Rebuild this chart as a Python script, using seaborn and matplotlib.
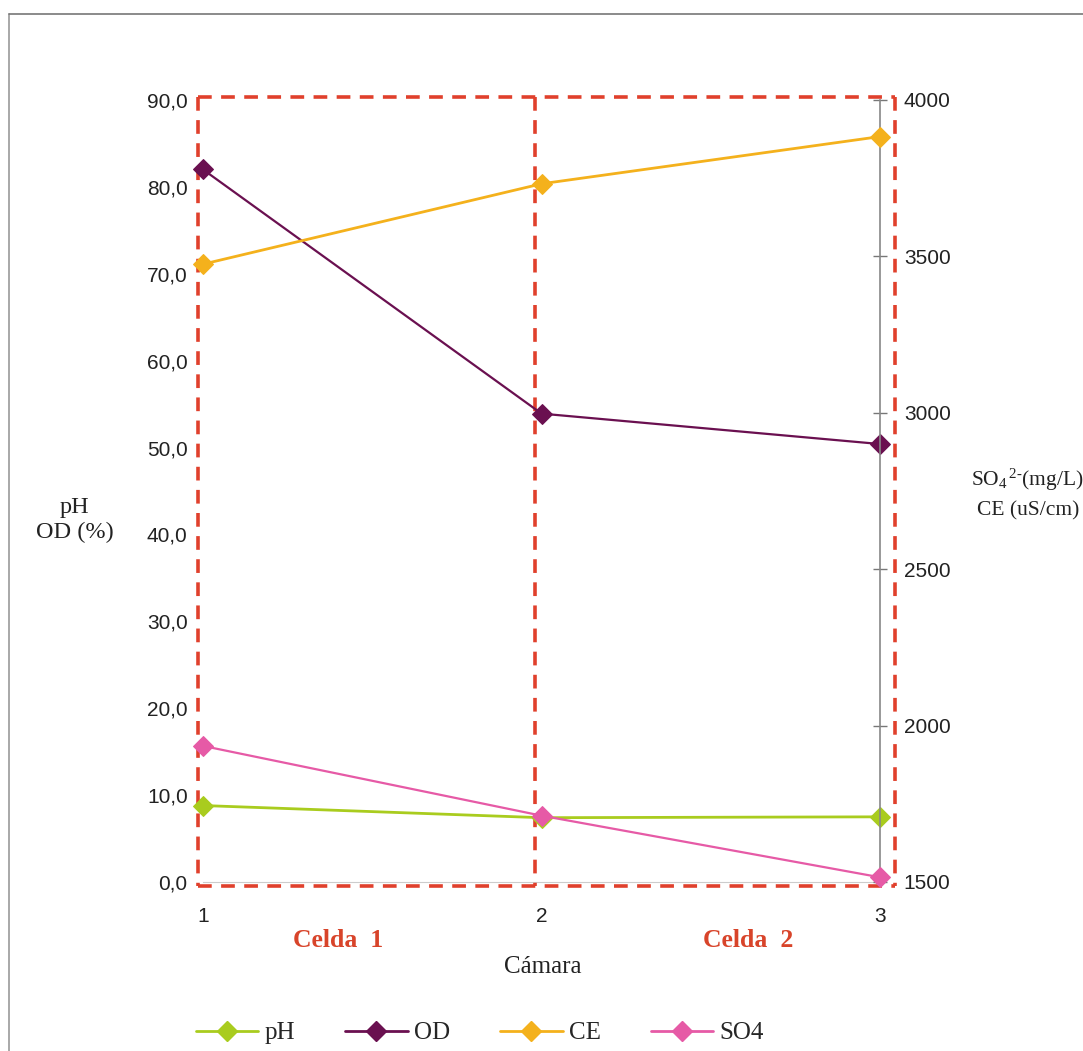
import matplotlib
matplotlib.use("Agg")
import matplotlib.pyplot as plt
import seaborn as sns
import pandas as pd
from matplotlib.lines import Line2D

# ---- data ----
camara = [1, 2, 3]
ph = [8.8, 7.4, 7.5]
od = [82.0, 53.9, 50.4]
ce = [3475, 3732, 3883]
so4 = [1935, 1712, 1515]
left_ticks = [0, 10, 20, 30, 40, 50, 60, 70, 80, 90]
right_ticks = [1500, 2000, 2500, 3000, 3500, 4000]
celdas = ["Celda  1", "Celda  2"]
celda_edges = [0.985, 1.982, 3.045]
celda_label_x = [1.40, 2.61]

c_ph = "#a9cc1e"
c_od = "#6a1050"
c_ce = "#f4b11c"
c_so4 = "#e65aa6"
c_red = "#e0402c"

sns.set_theme(style="white")
plt.rcParams["font.family"] = ["Liberation Sans", "DejaVu Sans"]
plt.rcParams["mathtext.fontset"] = "custom"
plt.rcParams["mathtext.rm"] = "Liberation Serif"
plt.rcParams["mathtext.it"] = "Liberation Serif:italic"

fig = plt.figure(figsize=(10.83, 10.51), dpi=100)
ax = fig.add_axes([0.1874, 0.1608, 0.6253, 0.7441])
ax2 = ax.twinx()

df = pd.DataFrame({"camara": camara, "ph": ph, "od": od, "ce": ce, "so4": so4})
ms = 10
sns.lineplot(data=df, x="camara", y="ph", ax=ax, color=c_ph, marker="D",
             markersize=ms, markeredgecolor=c_ph, linewidth=2)
sns.lineplot(data=df, x="camara", y="od", ax=ax, color=c_od, marker="D",
             markersize=ms, markeredgecolor=c_od, linewidth=1.6)
sns.lineplot(data=df, x="camara", y="ce", ax=ax2, color=c_ce, marker="D",
             markersize=ms, markeredgecolor=c_ce, linewidth=2)
sns.lineplot(data=df, x="camara", y="so4", ax=ax2, color=c_so4, marker="D",
             markersize=ms, markeredgecolor=c_so4, linewidth=1.6)
for a in (ax, ax2):
    for ln in a.lines:
        ln.set_clip_on(False)
        ln.set_zorder(5)

ax.set_xlim(1, 3)
ax.set_ylim(0, 90)
ax2.set_ylim(1500, 4000)
ax.set_xticks(camara)
ax.set_xticklabels([str(c) for c in camara])
ax.set_yticks(left_ticks)
ax.set_yticklabels([f"{t:.1f}".replace(".", ",") for t in left_ticks])
ax2.set_yticks(right_ticks)
ax2.set_yticklabels([str(t) for t in right_ticks])

ax.set_xlabel("")
ax.set_ylabel("")
ax2.set_ylabel("")
ax.tick_params(axis="y", length=0, pad=11, labelsize=15, colors="#222222")
ax.tick_params(axis="x", length=0, pad=18, labelsize=15, colors="#222222")
ax2.tick_params(axis="y", direction="inout", length=10, width=1, color="#777777",
                pad=12, labelsize=15, labelcolor="#222222")

for s in ["top", "left"]:
    ax.spines[s].set_visible(False)
    ax2.spines[s].set_visible(False)
ax.spines["right"].set_visible(False)
ax.spines["bottom"].set_color("#cccccc")
ax.spines["bottom"].set_linewidth(0.8)
ax2.spines["bottom"].set_visible(False)
ax2.spines["right"].set_color("#888888")
ax2.spines["right"].set_linewidth(1.2)

# dashed cell boxes (outer frame + dividers, drawn once each)
y_lo, y_hi = -0.45, 90.35
dash = dict(color=c_red, linewidth=2.6, linestyle=(0, (3.8, 2.6)),
            clip_on=False, zorder=3)
ax.plot([celda_edges[0], celda_edges[-1]], [y_hi, y_hi], **dash)
ax.plot([celda_edges[0], celda_edges[-1]], [y_lo, y_lo], **dash)
for xe in celda_edges:
    ax.plot([xe, xe], [y_hi, y_lo], **dash)

serif = ["Liberation Serif", "DejaVu Serif"]

# cell labels
for lx, lab in zip(celda_label_x, celdas):
    ax.text(lx, -0.075, lab, transform=ax.get_xaxis_transform(),
            ha="center", va="center", fontsize=18.5, fontweight="bold",
            color="#d8442a", family=serif)

fig.text(0.501, 0.080, "Cámara", ha="center", va="center", fontsize=18, family=serif,
         color="#222222")
fig.text(0.069, 0.505, "pH\nOD (%)", ha="center", va="center", fontsize=17.5,
         family=serif, color="#222222", linespacing=1.25)
fig.text(0.949, 0.543, r"SO$_4$$^{\,2\text{-}}$(mg/L)", ha="center", va="center",
         fontsize=15.5, family=serif, color="#222222")
fig.text(0.949, 0.514, "CE (uS/cm)", ha="center", va="center",
         fontsize=15.5, family=serif, color="#222222")

# legend
handles = [Line2D([0], [0], color=c, marker="D", markersize=10, markeredgecolor=c, lw=2)
           for c in (c_ph, c_od, c_ce, c_so4)]
fig.legend(handles, ["pH", "OD", "CE", "SO4"], loc="center", ncol=4,
           bbox_to_anchor=(0.443, 0.017), frameon=False, handlelength=2.5,
           columnspacing=2.0, handletextpad=0.25, prop={"family": serif, "size": 18})

# page frame
fig.add_artist(Line2D([0.008, 0.008], [0.0, 0.987], color="#999999", lw=1.2,
                      transform=fig.transFigure))
fig.add_artist(Line2D([0.008, 1.0], [0.987, 0.987], color="#777777", lw=1.2,
                      transform=fig.transFigure))

fig.savefig("out.png", dpi=100)
